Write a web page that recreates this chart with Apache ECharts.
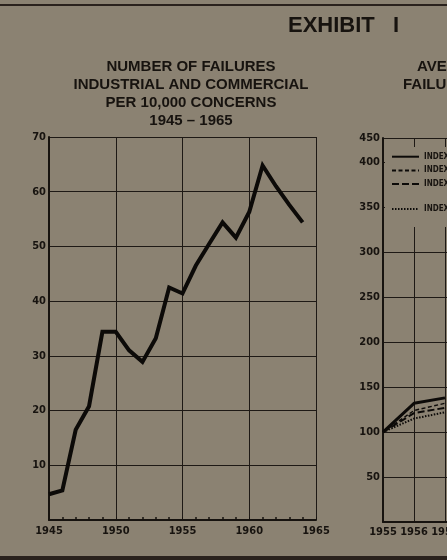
<!DOCTYPE html>
<html>
<head>
<meta charset="utf-8">
<script src="https://cdn.jsdelivr.net/npm/echarts@6/dist/echarts.min.js"></script>
<style>
  html, body { margin: 0; padding: 0; background: #8b8272; overflow: hidden; width: 447px; height: 560px; }
  /* the exhibit is wider than the page; the right-hand panel runs off the edge */
  #chart { width: 760px; height: 560px; }
</style>
</head>
<body>
<div id="chart"></div>
<script>
// Failures per 10,000 concerns, 1945–1964
const failureYears = [1945, 1946, 1947, 1948, 1949, 1950, 1951, 1952, 1953, 1954,
                      1955, 1956, 1957, 1958, 1959, 1960, 1961, 1962, 1963, 1964];
const failureRate = [4.7, 5.4, 16.5, 20.8, 34.4, 34.4, 31.0, 28.9, 33.2, 42.5,
                     41.4, 46.5, 50.5, 54.4, 51.6, 56.3, 64.8, 61.0, 57.6, 54.4];

// Index series, 1955 = 100
const indexYears = [1955, 1956, 1957];
const indexNames = ['INDEX A', 'INDEX B', 'INDEX C', 'INDEX D'];
const indexSolid = [100, 132, 138];
const indexShortDash = [100, 124, 132];
const indexLongDash = [100, 121, 127];
const indexDotted = [100, 115, 122];

// Index axis: linear up to 400, top edge compressed and labelled 450
const indexAxisTop = 427;
const indexTopLabel = '450';

const INK = '#17130f';
const BG = '#8b8272';
const NARROW = '"Liberation Sans Narrow", "DejaVu Sans Condensed", "Liberation Sans", sans-serif';
const SANS = '"Liberation Sans", "DejaVu Sans", sans-serif';

const pairs = (xs, ys) => xs.map((x, i) => [x, ys[i]]);

const labelStyle = { color: INK, fontFamily: NARROW, fontWeight: 'bold', fontSize: 11 };
const gridLine = { show: true, lineStyle: { color: '#1e1915', width: 1 } };
const legendText = { color: INK, fontFamily: NARROW, fontWeight: 'bold', fontSize: 8, lineHeight: 8 };
const hiddenSymbol = { color: 'transparent', borderColor: 'transparent', borderWidth: 0 };

const chart = echarts.init(document.getElementById('chart'), null, { renderer: 'canvas' });

chart.setOption({
  backgroundColor: BG,
  animation: false,
  title: [
    {
      text: 'NUMBER OF FAILURES\nINDUSTRIAL AND COMMERCIAL\nPER 10,000 CONCERNS\n1945 – 1965',
      left: 186, top: 53, textAlign: 'center',
      textStyle: { color: INK, fontFamily: SANS, fontWeight: 'bold', fontSize: 15, lineHeight: 18 }
    },
    {
      text: 'AVERAGE LIABILITY PER',
      left: 412, top: 53,
      textStyle: { color: INK, fontFamily: SANS, fontWeight: 'bold', fontSize: 15, lineHeight: 18 }
    },
    {
      text: 'FAILURE, 1955 – 1965',
      left: 398, top: 71,
      textStyle: { color: INK, fontFamily: SANS, fontWeight: 'bold', fontSize: 15, lineHeight: 18 }
    }
  ],
  graphic: [
    { type: 'rect', left: 0, top: 4, shape: { width: 760, height: 2 }, style: { fill: '#2a221d' } },
    { type: 'rect', left: 0, top: 556, shape: { width: 760, height: 4 }, style: { fill: '#2a221d' } },
    {
      type: 'text', left: 288, top: 15,
      style: { text: 'EXHIBIT   I', fill: INK, font: 'bold 22px "Liberation Sans", "DejaVu Sans", sans-serif' }
    }
  ],
  legend: [
    {
      data: indexNames.slice(0, 3),
      orient: 'vertical', left: 385, top: 147,
      padding: [5.7, 80, 0, 6],
      itemWidth: 27, itemHeight: 8, itemGap: 5.7,
      backgroundColor: BG, selectedMode: false,
      itemStyle: hiddenSymbol,
      textStyle: legendText
    },
    {
      data: indexNames.slice(3),
      orient: 'vertical', left: 385, top: 188,
      padding: [17, 80, 14, 6],
      itemWidth: 27, itemHeight: 8,
      backgroundColor: BG, selectedMode: false,
      itemStyle: hiddenSymbol,
      textStyle: legendText
    }
  ],
  grid: [
    { left: 49, top: 137, width: 267, height: 383 },
    { left: 383, top: 138, width: 310, height: 384 }
  ],
  xAxis: [
    {
      gridIndex: 0, type: 'value', min: 1945, max: 1965, interval: 5,
      axisLine: { show: true, lineStyle: { color: INK, width: 2 } },
      axisTick: { show: true, inside: true, length: 3, lineStyle: { color: INK } },
      minorTick: { show: true, splitNumber: 5, length: 3, lineStyle: { color: INK, width: 1.5 } },
      splitLine: gridLine,
      axisLabel: { ...labelStyle, margin: 6, formatter: v => String(v) }
    },
    {
      gridIndex: 1, type: 'value', min: 1955, max: 1965, interval: 1,
      axisLine: { show: true, lineStyle: { color: INK, width: 2 } },
      axisTick: { show: false },
      splitLine: gridLine,
      axisLabel: { ...labelStyle, margin: 5, formatter: v => String(v) }
    }
  ],
  yAxis: [
    {
      gridIndex: 0, type: 'value', min: 0, max: 70, interval: 10,
      axisLine: { show: true, lineStyle: { color: INK, width: 2 } },
      axisTick: { show: false },
      splitLine: gridLine,
      axisLabel: { ...labelStyle, margin: 3, formatter: v => (v === 0 ? '' : String(v)) }
    },
    {
      gridIndex: 1, type: 'value', min: 0, max: indexAxisTop, interval: 50,
      axisLine: { show: true, lineStyle: { color: INK, width: 2 } },
      axisTick: { show: false },
      splitLine: gridLine,
      axisLabel: {
        ...labelStyle, margin: 3, showMaxLabel: true,
        formatter: v => (v === 0 ? '' : (v > 400 ? indexTopLabel : String(v)))
      }
    }
  ],
  series: [
    {
      type: 'line', xAxisIndex: 0, yAxisIndex: 0, symbol: 'none',
      data: pairs(failureYears, failureRate),
      lineStyle: { color: '#0c0a08', width: 4, join: 'miter' }
    },
    {
      name: indexNames[0], type: 'line', xAxisIndex: 1, yAxisIndex: 1, symbol: 'none',
      data: pairs(indexYears, indexSolid),
      itemStyle: { color: '#0c0a08' },
      lineStyle: { color: '#0c0a08', width: 3 }
    },
    {
      name: indexNames[1], type: 'line', xAxisIndex: 1, yAxisIndex: 1, symbol: 'none',
      data: pairs(indexYears, indexShortDash),
      itemStyle: { color: '#0c0a08' },
      lineStyle: { color: '#0c0a08', width: 1.4, type: [4, 2.5] }
    },
    {
      name: indexNames[2], type: 'line', xAxisIndex: 1, yAxisIndex: 1, symbol: 'none',
      data: pairs(indexYears, indexLongDash),
      itemStyle: { color: '#0c0a08' },
      lineStyle: { color: '#0c0a08', width: 2, type: [7, 3] }
    },
    {
      name: indexNames[3], type: 'line', xAxisIndex: 1, yAxisIndex: 1, symbol: 'none',
      data: pairs(indexYears, indexDotted),
      itemStyle: { color: '#0c0a08' },
      lineStyle: { color: '#0c0a08', width: 2, type: [1.5, 1.5] }
    }
  ]
});
</script>
</body>
</html>
